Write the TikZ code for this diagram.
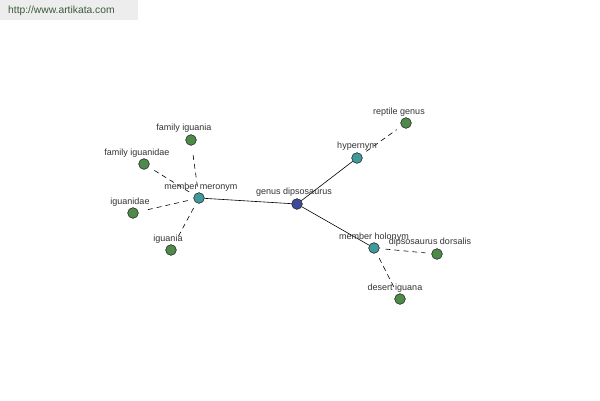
\documentclass[tikz,border=0pt]{standalone}
\usepackage{fontspec}
\setmainfont{Liberation Sans}
\definecolor{leafc}{HTML}{4E8A48}
\definecolor{midc}{HTML}{3F9A9C}
\definecolor{rootc}{HTML}{3E4A9A}
\definecolor{labc}{HTML}{333333}
\definecolor{urlc}{HTML}{3C5A3C}
\tikzset{
  x=1pt,y=-1pt,
  dot/.style={circle,draw=black!80,line width=0.5pt,inner sep=0pt,minimum size=10.5pt},
  leaf/.style={dot,fill=leafc},
  mid/.style={dot,fill=midc},
  root/.style={dot,fill=rootc},
  lab/.style={font=\fontsize{9}{10}\selectfont,text=labc,inner sep=0pt},
  solidedge/.style={draw=black,line width=0.6pt},
  dashedge/.style={draw=black,line width=0.6pt,dashed,dash pattern=on 5pt off 4pt,shorten <=6pt,shorten >=6pt}
}
\begin{document}
\begin{tikzpicture}
\useasboundingbox (0,0) rectangle (600,400);
\fill[white] (0,0) rectangle (600,400);
\fill[black!7] (0,0) rectangle (138,20);
\node[anchor=west,inner sep=0pt,text=urlc,font=\fontsize{10.3}{11}\selectfont] (url) at (8,11) {http://www.artikata.com};

\node[root] (gd) at (297,204) {};
\node[mid] (mm) at (199,198) {};
\node[mid] (hy) at (357,158) {};
\node[mid] (mh) at (374,248) {};
\node[leaf] (fia) at (191,140) {};
\node[leaf] (fie) at (144,164) {};
\node[leaf] (ige) at (133,213) {};
\node[leaf] (ig) at (171,250) {};
\node[leaf] (rg) at (406,123) {};
\node[leaf] (dd) at (437,254) {};
\node[leaf] (di) at (400,299) {};

\draw[solidedge] (gd) -- (mm);
\draw[solidedge] (gd) -- (hy);
\draw[solidedge] (gd) -- (mh);
\draw[dashedge] (mm) -- (fia);
\draw[dashedge] (mm) -- (fie);
\draw[dashedge] (mm) -- (ige);
\draw[dashedge] (mm) -- (ig);
\draw[dashedge] (hy) -- (rg);
\draw[dashedge] (mh) -- (dd);
\draw[dashedge] (mh) -- (di);

\node[root] at (gd) {};
\node[mid] at (mm) {};
\node[mid] at (hy) {};
\node[mid] at (mh) {};
\node[leaf] at (fia) {};
\node[leaf] at (fie) {};
\node[leaf] at (ige) {};
\node[leaf] at (ig) {};
\node[leaf] at (rg) {};
\node[leaf] at (dd) {};
\node[leaf] at (di) {};

\node[lab] (lgd) at (294,192) {genus dipsosaurus};
\node[lab] (lmm) at (201,187) {member meronym};
\node[lab] (lhy) at (357,146) {hypernym};
\node[lab] (lmh) at (374,237) {member holonym};
\node[lab] (lfia) at (184,128) {family iguania};
\node[lab] (lfie) at (137,153) {family iguanidae};
\node[lab] (lige) at (130,202) {iguanidae};
\node[lab] (lig) at (168,239) {iguania};
\node[lab] (lrg) at (399,112) {reptile genus};
\node[lab] (ldd) at (430,242) {dipsosaurus dorsalis};
\node[lab] (ldi) at (395,288) {desert iguana};
\end{tikzpicture}
\end{document}
